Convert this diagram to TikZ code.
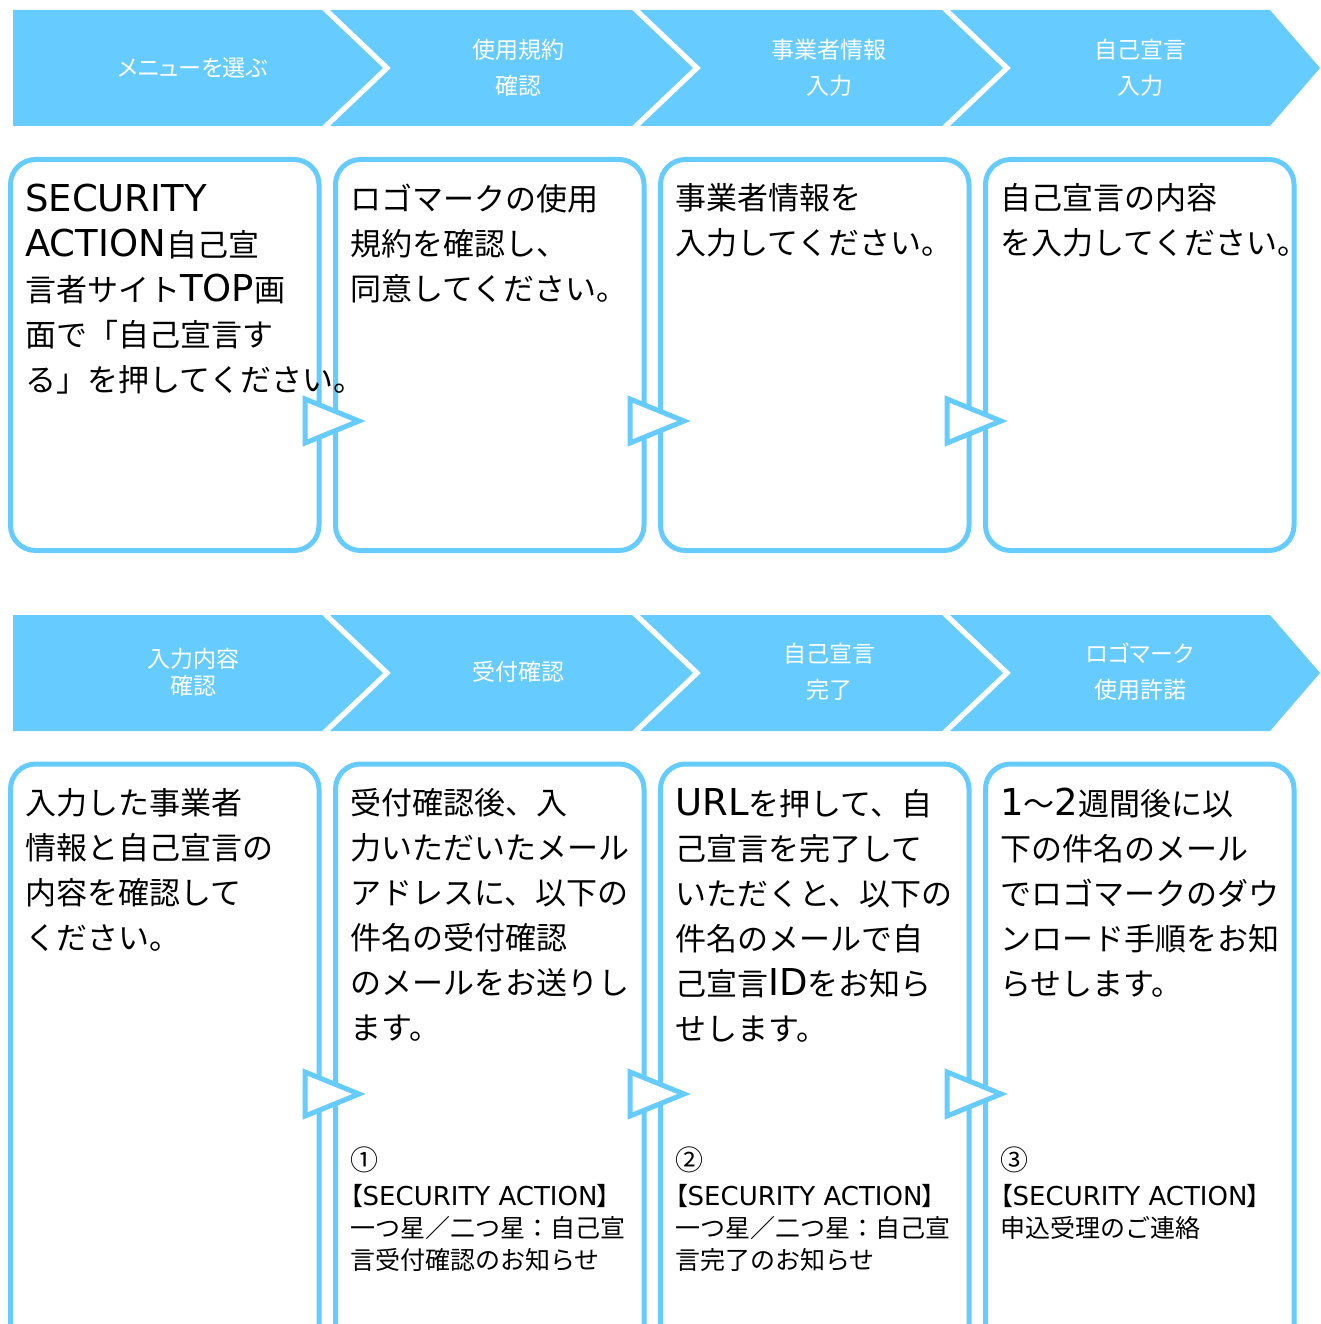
\documentclass[tikz,border=0pt]{standalone}
\usepackage{fontspec}
\newfontfamily\jpfont{Noto Sans CJK JP}
\newfontfamily\jphead[RawFeature=+palt]{Noto Sans CJK JP}
\newfontfamily\latfont{DejaVu Sans}
\newcommand{\latbig}[1]{{\latfont\fontsize{37}{45}\selectfont #1}}
\newcommand{\latsmall}[1]{{\jphead【}{\latfont\fontsize{26}{32}\selectfont #1}{\jphead】}}
\usepackage{xcolor}
\usepackage{tikz}
\usetikzlibrary{shapes.geometric,positioning}
\definecolor{flowblue}{HTML}{66CCFF}
\tikzset{
  chev/.style={fill=flowblue, draw=none},
  chevtext/.style={white, align=center, inner sep=0pt, font=\jphead\fontsize{23}{36}\selectfont},
  stepbox/.style={draw=flowblue, line width=5pt, rounded corners=25pt, minimum width=308.5pt, inner sep=0pt, outer sep=0pt, anchor=north west},
  boxtext/.style={align=left, inner sep=0pt, font=\jpfont\fontsize{31}{45}\selectfont},
  notetext/.style={align=left, inner sep=0pt, font=\jpfont\fontsize{25}{32}\selectfont},
  tri/.style={isosceles triangle, isosceles triangle stretches, draw=flowblue, fill=white, line width=5pt, minimum height=54pt, minimum width=44pt, inner sep=0pt, outer sep=0pt, anchor=apex}
}

\begin{document}
\begin{tikzpicture}[x=1pt, y=-1pt]
\useasboundingbox (0,0) rectangle (1320,1324);
\clip (0,0) rectangle (1320,1324);

% first row of steps
\fill[chev] (13,10) -- (322,10) -- (383,68) -- (322,126) -- (13,126) -- cycle;
\fill[chev] (330,10) -- (632,10) -- (693,68) -- (632,126) -- (330,126) -- (391,68) -- cycle;
\fill[chev] (640,10) -- (942,10) -- (1003,68) -- (942,126) -- (640,126) -- (701,68) -- cycle;
\fill[chev] (950,10) -- (1270,10) -- (1320,68) -- (1270,126) -- (950,126) -- (1011,68) -- cycle;
\node[chevtext] (h1) at (193,68) {メニューを選ぶ};
\node[chevtext] (h2) at (518,68) {使用規約\\確認};
\node[chevtext] (h3) at (829,68) {事業者情報\\入力};
\node[chevtext] (h4) at (1140,68) {自己宣言\\入力};

\node[stepbox, minimum height=391pt] (box1) at (10.5,159.5) {};
\node[stepbox, minimum height=391pt] (box2) at (335.5,159.5) {};
\node[stepbox, minimum height=391pt] (box3) at (660.5,159.5) {};
\node[stepbox, minimum height=391pt] (box4) at (985.5,159.5) {};

\node[tri] (t1) at (359,421) {};
\node[tri] (t2) at (684,421) {};
\node[tri] (t3) at (1001,421) {};

\node[boxtext, below right=24pt and 14.5pt of box1.north west] (txt1)
  {\latbig{SECURITY}\\\latbig{ACTION}自己宣\\言者サイト\latbig{TOP}画\\面で「自己宣言す\\る」を押してください。};
\node[boxtext, below right=24pt and 14.5pt of box2.north west] (txt2)
  {ロゴマークの使用\\規約を確認し、\\同意してください。};
\node[boxtext, below right=24pt and 14.5pt of box3.north west] (txt3)
  {事業者情報を\\入力してください。};
\node[boxtext, below right=24pt and 14.5pt of box4.north west] (txt4)
  {自己宣言の内容\\を入力してください。};

% second row of steps
\fill[chev] (13,615) -- (322,615) -- (383,673) -- (322,731) -- (13,731) -- cycle;
\fill[chev] (330,615) -- (632,615) -- (693,673) -- (632,731) -- (330,731) -- (391,673) -- cycle;
\fill[chev] (640,615) -- (942,615) -- (1003,673) -- (942,731) -- (640,731) -- (701,673) -- cycle;
\fill[chev] (950,615) -- (1270,615) -- (1320,673) -- (1270,731) -- (950,731) -- (1011,673) -- cycle;
\node[chevtext] (h5) at (193,672) {入力内容\\[-9pt]確認};
\node[chevtext] (h6) at (518,672) {受付確認};
\node[chevtext] (h7) at (829,672) {自己宣言\\完了};
\node[chevtext] (h8) at (1140,672) {ロゴマーク\\使用許諾};

\node[stepbox, minimum height=620pt] (box5) at (10.5,764) {};
\node[stepbox, minimum height=620pt] (box6) at (335.5,764) {};
\node[stepbox, minimum height=620pt] (box7) at (660.5,764) {};
\node[stepbox, minimum height=620pt] (box8) at (985.5,764) {};

\node[tri] (t4) at (359,1094) {};
\node[tri] (t5) at (684,1094) {};
\node[tri] (t6) at (1001,1094) {};

\node[boxtext, below right=24pt and 14.5pt of box5.north west] (txt5)
  {入力した事業者\\情報と自己宣言の\\内容を確認して\\ください。};
\node[boxtext, below right=24pt and 14.5pt of box6.north west] (txt6)
  {受付確認後、入\\力いただいたメール\\アドレスに、以下の\\件名の受付確認\\のメールをお送りし\\ます。};
\node[boxtext, below right=24pt and 14.5pt of box7.north west] (txt7)
  {\latbig{URL}を押して、自\\己宣言を完了して\\いただくと、以下の\\件名のメールで自\\己宣言\latbig{ID}をお知ら\\せします。};
\node[boxtext, below right=24pt and 14.5pt of box8.north west] (txt8)
  {\latbig{1}～\latbig{2}週間後に以\\下の件名のメール\\でロゴマークのダウ\\ンロード手順をお知\\らせします。};

\node[notetext, below right=383pt and 14.5pt of box6.north west] (note6)
  {{\fontsize{28}{32}\selectfont ①}\\[3pt]\latsmall{SECURITY ACTION}\\一つ星／二つ星：自己宣\\言受付確認のお知らせ};
\node[notetext, below right=383pt and 14.5pt of box7.north west] (note7)
  {{\fontsize{28}{32}\selectfont ②}\\[3pt]\latsmall{SECURITY ACTION}\\一つ星／二つ星：自己宣\\言完了のお知らせ};
\node[notetext, below right=383pt and 14.5pt of box8.north west] (note8)
  {{\fontsize{28}{32}\selectfont ③}\\[3pt]\latsmall{SECURITY ACTION}\\申込受理のご連絡};
\end{tikzpicture}
\end{document}
